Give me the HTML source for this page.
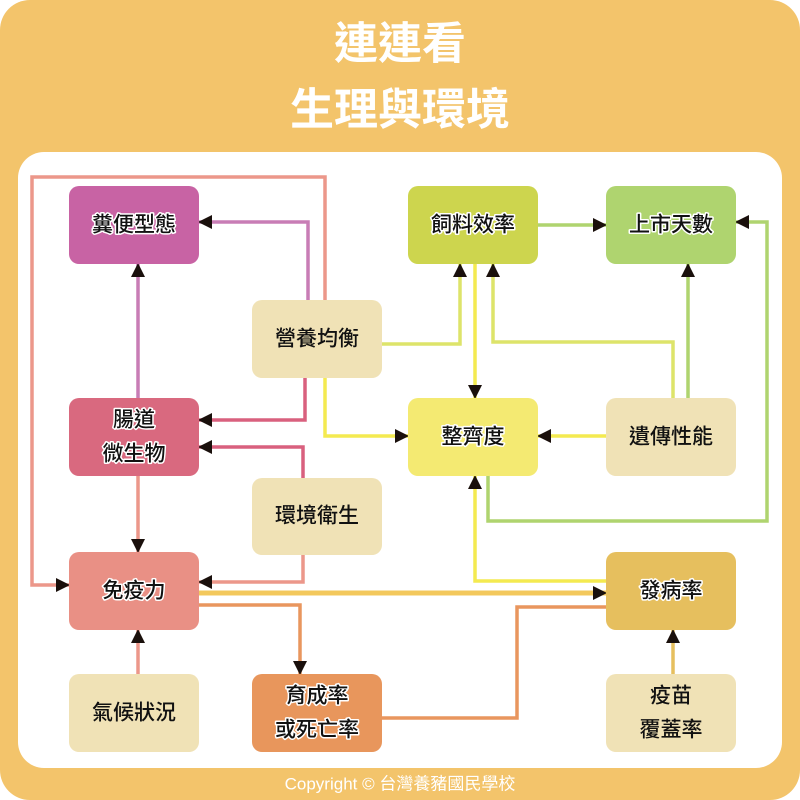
<!DOCTYPE html>
<html><head><meta charset="utf-8"><style>
html,body{margin:0;padding:0;background:#fff}
svg{display:block}
text{font-family:"Liberation Sans","Noto Sans CJK TC",sans-serif}
.t{font-size:21px;fill:#111;text-anchor:middle;dominant-baseline:central;font-weight:500}
.h{stroke:#fff;stroke-width:3px;paint-order:stroke;stroke-linejoin:round}
.l{fill:none;stroke-width:3.5}
</style></head><body>
<svg width="800" height="800" viewBox="0 0 800 800" xmlns="http://www.w3.org/2000/svg">
<defs>
<marker id="b" viewBox="0 0 14 14" markerWidth="14" markerHeight="14" refX="13" refY="7" orient="auto" markerUnits="userSpaceOnUse"><path d="M0,0 L14,7 L0,14 z" fill="#1a100c"/></marker></defs>
<rect x="0" y="0" width="800" height="800" rx="30" fill="#f3c46b"/>
<rect x="18" y="152" width="764" height="616" rx="26" fill="#fff"/>
<text x="400" y="44" font-size="44" font-weight="bold" fill="#fff" text-anchor="middle" dominant-baseline="central">連連看</text>
<text x="400" y="110" font-size="44" font-weight="bold" fill="#fff" text-anchor="middle" dominant-baseline="central">生理與環境</text>
<text x="400" y="784" font-size="17" fill="#fff" text-anchor="middle" dominant-baseline="central">Copyright © 台灣養豬國民學校</text>

<g class="l">
<path d="M325,300 V177 H32 V585 H69" stroke="#ec978a" marker-end="url(#b)"/>
<path d="M308,300 V222 H199" stroke="#c87db5" marker-end="url(#b)"/>
<path d="M138,398 V264" stroke="#c87db5" marker-end="url(#b)"/>
<path d="M305,378 V420 H199" stroke="#d9607e" marker-end="url(#b)"/>
<path d="M303,478 V447 H199" stroke="#d9607e" marker-end="url(#b)"/>
<path d="M138,476 V552" stroke="#ec978a" marker-end="url(#b)"/>
<path d="M303,555 V582 H199" stroke="#ec978a" marker-end="url(#b)"/>
<path d="M138,674 V630" stroke="#ec978a" marker-end="url(#b)"/>
<path d="M199,593 H606" stroke="#f3c85c" stroke-width="5" marker-end="url(#b)"/>
<path d="M199,605 H300 V674" stroke="#e9965e" marker-end="url(#b)"/>
<path d="M382,718 H517 V607 H606" stroke="#e9965e"/>
<path d="M606,581 H475 V476" stroke="#f4ea50" marker-end="url(#b)"/>
<path d="M488,476 V521 H767 V222 H736" stroke="#afd46f" marker-end="url(#b)"/>
<path d="M688,398 V264" stroke="#afd46f" marker-end="url(#b)"/>
<path d="M673,398 V342 H493 V264" stroke="#dde46a" marker-end="url(#b)"/>
<path d="M382,344 H460 V264" stroke="#dde46a" marker-end="url(#b)"/>
<path d="M475,264 V398" stroke="#f4ea50" marker-end="url(#b)"/>
<path d="M538,225 H606" stroke="#afd46f" marker-end="url(#b)"/>
<path d="M606,436 H538" stroke="#f4ea50" marker-end="url(#b)"/>
<path d="M325,378 V436 H408" stroke="#f4ea50" marker-end="url(#b)"/>
<path d="M673,674 V630" stroke="#e6bf5e" marker-end="url(#b)"/>
</g>

<g>
<rect x="69" y="186" width="130" height="78" rx="10" fill="#c863a4"/>
<rect x="69" y="398" width="130" height="78" rx="10" fill="#d9697f"/>
<rect x="69" y="552" width="130" height="78" rx="10" fill="#e99085"/>
<rect x="69" y="674" width="130" height="78" rx="10" fill="#f0e2b6"/>
<rect x="252" y="300" width="130" height="78" rx="10" fill="#f0e2b6"/>
<rect x="252" y="478" width="130" height="77" rx="10" fill="#f0e2b6"/>
<rect x="252" y="674" width="130" height="78" rx="10" fill="#e8965c"/>
<rect x="408" y="186" width="130" height="78" rx="10" fill="#cdd54e"/>
<rect x="606" y="186" width="130" height="78" rx="10" fill="#afd46f"/>
<rect x="408" y="398" width="130" height="78" rx="10" fill="#f4ea72"/>
<rect x="606" y="398" width="130" height="78" rx="10" fill="#f0e2b6"/>
<rect x="606" y="552" width="130" height="78" rx="10" fill="#e6bf5e"/>
<rect x="606" y="674" width="130" height="78" rx="10" fill="#f0e2b6"/>
</g>
<g class="t">
<text class="t h" x="134" y="225">糞便型態</text>
<text class="t h" x="134" y="420">腸道</text>
<text class="t h" x="134" y="454">微生物</text>
<text class="t h" x="134" y="591">免疫力</text>
<text class="t" x="134" y="713">氣候狀況</text>
<text class="t" x="317" y="339">營養均衡</text>
<text class="t" x="317" y="516">環境衛生</text>
<text class="t h" x="317" y="696">育成率</text>
<text class="t h" x="317" y="730">或死亡率</text>
<text class="t h" x="473" y="225">飼料效率</text>
<text class="t h" x="671" y="225">上市天數</text>
<text class="t h" x="473" y="437">整齊度</text>
<text class="t" x="671" y="437">遺傳性能</text>
<text class="t h" x="671" y="591">發病率</text>
<text class="t" x="671" y="696">疫苗</text>
<text class="t" x="671" y="730">覆蓋率</text>
</g>
</svg>
</body></html>
